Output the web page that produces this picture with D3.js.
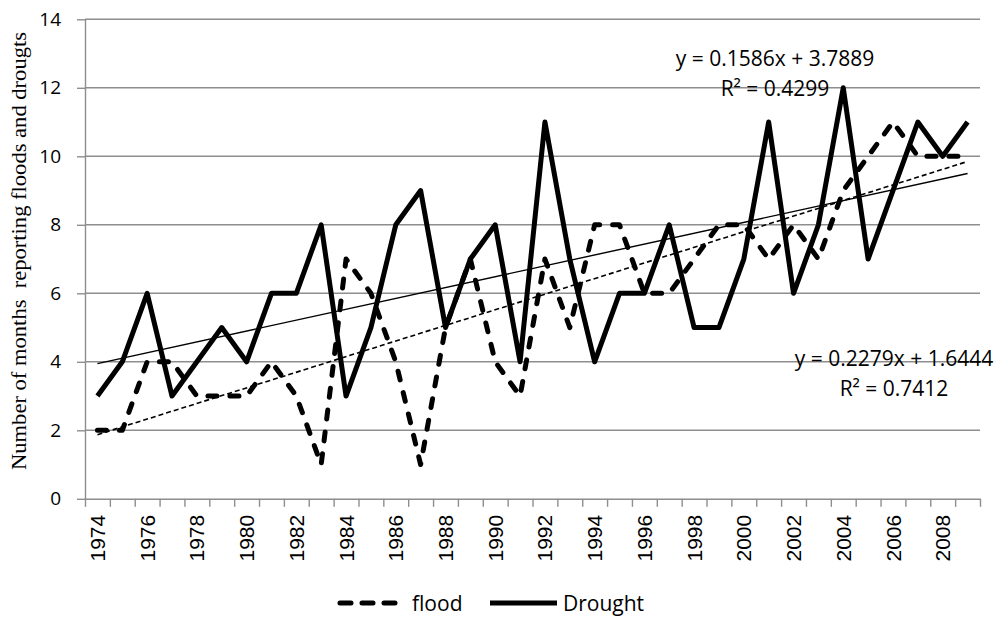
<!DOCTYPE html>
<html>
<head>
<meta charset="utf-8">
<script src="https://cdn.jsdelivr.net/npm/d3@7"></script>
<style>
  body { margin: 0; background: #fff; }
  svg { display: block; }
</style>
</head>
<body>
<div id="chart"></div>
<script>
// data
const years = d3.range(1974, 2010);
const flood = [2, 2, 4, 4, 3, 3, 3, 4, 3, 1,
               7, 6, 4, 1, 5, 7, 4, 3, 7, 5,
               8, 8, 6, 6, 7, 8, 8, 7, 8, 7,
               9, 10, 11, 10, 10, 10];
const drought = [3, 4, 6, 3, 4, 5, 4, 6, 6, 8,
                 3, 5, 8, 9, 5, 7, 8, 4, 11, 7,
                 4, 6, 6, 8, 5, 5, 7, 11, 6, 8,
                 12, 7, 9, 11, 10, 11];
const yTicks = [0, 2, 4, 6, 8, 10, 12, 14];
const yearLabels = years.filter(d => d % 2 === 0);
// trendline coefficients, x = 1..36
const floodTrend = {slope: 0.2279, intercept: 1.6444, eq: "y = 0.2279x + 1.6444", r2: "R² = 0.7412"};
const droughtTrend = {slope: 0.1586, intercept: 3.7889, eq: "y = 0.1586x + 3.7889", r2: "R² = 0.4299"};

const W = 1006, H = 619;
const margin = {top: 19.3, right: 26, bottom: 120.2, left: 85};
const width = W - margin.left - margin.right,
      height = H - margin.top - margin.bottom;

const svg = d3.select("#chart")
  .append("svg")
  .attr("width", W)
  .attr("height", H)
  .append("g")
  .attr("transform", `translate(${margin.left},${margin.top})`);

const grey = "#8e8e8e";
const sans = "'Open Sans', sans-serif";

// scales
const x = d3.scaleBand()
  .domain(years)
  .range([0, width]);
const xb = d3.scaleLinear()
  .domain([0, years.length])
  .range([0, width]);
const y = d3.scaleLinear()
  .domain([0, 14])
  .range([height, 0]);
const cx = d => x(d) + x.bandwidth() / 2;

// gridlines
svg.append("g")
  .selectAll("line")
  .data(yTicks.filter(d => d > 0))
  .join("line")
    .attr("x1", 0)
    .attr("x2", width)
    .attr("y1", d => y(d))
    .attr("y2", d => y(d))
    .attr("stroke", grey)
    .attr("stroke-width", 1.4);

// Y axis
const yAxis = svg.append("g")
  .call(d3.axisLeft(y).tickValues(yTicks).tickSize(8).tickPadding(16).tickSizeOuter(0));
yAxis.select(".domain").attr("stroke", grey).attr("stroke-width", 1.4);
yAxis.selectAll(".tick line").attr("stroke", grey).attr("stroke-width", 1.4);
yAxis.selectAll(".tick text")
  .attr("font-family", sans)
  .attr("font-size", 19)
  .attr("fill", "#000");

// X axis: tick marks between categories
const xTickAxis = svg.append("g")
  .attr("transform", `translate(0,${height})`)
  .call(d3.axisBottom(xb).tickValues(d3.range(years.length + 1)).tickFormat("").tickSize(8).tickSizeOuter(0));
xTickAxis.select(".domain").attr("stroke", grey).attr("stroke-width", 1.4);
xTickAxis.selectAll(".tick line").attr("stroke", grey).attr("stroke-width", 1.4);

// X labels, every other year, rotated
const xLab = svg.append("g")
  .attr("transform", `translate(0,${height})`)
  .call(d3.axisBottom(x).tickValues(yearLabels).tickSize(0));
xLab.select(".domain").remove();
xLab.selectAll(".tick text")
  .attr("font-family", "'Liberation Sans', Arial, sans-serif")
  .attr("font-size", 21)
  .attr("fill", "#000")
  .attr("text-anchor", "end")
  .attr("dy", "0.36em")
  .attr("transform", "translate(0,16) rotate(-90)")
  .attr("x", 0)
  .attr("y", 0);

// Y axis title
svg.append("text")
  .attr("transform", `translate(${19 - margin.left},${251 - margin.top}) rotate(-90)`)
  .attr("text-anchor", "middle")
  .attr("dominant-baseline", "central")
  .attr("font-family", "'Liberation Serif', 'Times New Roman', serif")
  .attr("font-size", 20)
  .attr("textLength", 438)
  .attr("lengthAdjust", "spacingAndGlyphs")
  .style("white-space", "pre")
  .text("Number of months  reporting floods and drougts");

// trendlines
function trendPts(t) {
  return [years[0], years[years.length - 1]].map(yr => {
    const i = yr - years[0] + 1;
    return [cx(yr), y(t.slope * i + t.intercept)];
  });
}
svg.append("path")
  .attr("d", d3.line()(trendPts(droughtTrend)))
  .attr("fill", "none")
  .attr("stroke", "#000")
  .attr("stroke-width", 1.4);
svg.append("path")
  .attr("d", d3.line()(trendPts(floodTrend)))
  .attr("fill", "none")
  .attr("stroke", "#000")
  .attr("stroke-width", 1.6)
  .attr("stroke-dasharray", "5,3");

// data lines
const line = d3.line()
  .x((d, i) => cx(years[i]))
  .y(d => y(d));

svg.append("path")
  .datum(flood)
  .attr("d", line)
  .attr("fill", "none")
  .attr("stroke", "#000")
  .attr("stroke-width", 5)
  .attr("stroke-linecap", "round")
  .attr("stroke-linejoin", "round")
  .attr("stroke-dasharray", "9,13");

svg.append("path")
  .datum(drought)
  .attr("d", line)
  .attr("fill", "none")
  .attr("stroke", "#000")
  .attr("stroke-width", 5)
  .attr("stroke-linejoin", "round");

// trendline equations
function eqLabel(t, cxPos, cyPos) {
  const g = svg.append("g")
    .attr("font-family", sans)
    .attr("font-size", 21)
    .attr("text-anchor", "middle")
    .attr("fill", "#000");
  g.append("text")
    .attr("x", cxPos - margin.left)
    .attr("y", cyPos - margin.top)
    .attr("dominant-baseline", "central")
    .text(t.eq);
  g.append("text")
    .attr("x", cxPos - margin.left)
    .attr("y", cyPos + 30 - margin.top)
    .attr("dominant-baseline", "central")
    .text(t.r2);
}
eqLabel(droughtTrend, 775, 58);
eqLabel(floodTrend, 894, 358);

// legend
const legend = svg.append("g")
  .attr("transform", `translate(${-margin.left},${603 - margin.top})`);
legend.append("line")
  .attr("x1", 340).attr("x2", 396)
  .attr("stroke", "#000")
  .attr("stroke-width", 5)
  .attr("stroke-linecap", "round")
  .attr("stroke-dasharray", "11,11");
legend.append("text")
  .attr("x", 412)
  .attr("dominant-baseline", "central")
  .attr("font-family", sans)
  .attr("font-size", 21)
  .text("flood");
legend.append("line")
  .attr("x1", 490).attr("x2", 557)
  .attr("stroke", "#000")
  .attr("stroke-width", 5);
legend.append("text")
  .attr("x", 563)
  .attr("dominant-baseline", "central")
  .attr("font-family", sans)
  .attr("font-size", 21)
  .text("Drought");
</script>
</body>
</html>
